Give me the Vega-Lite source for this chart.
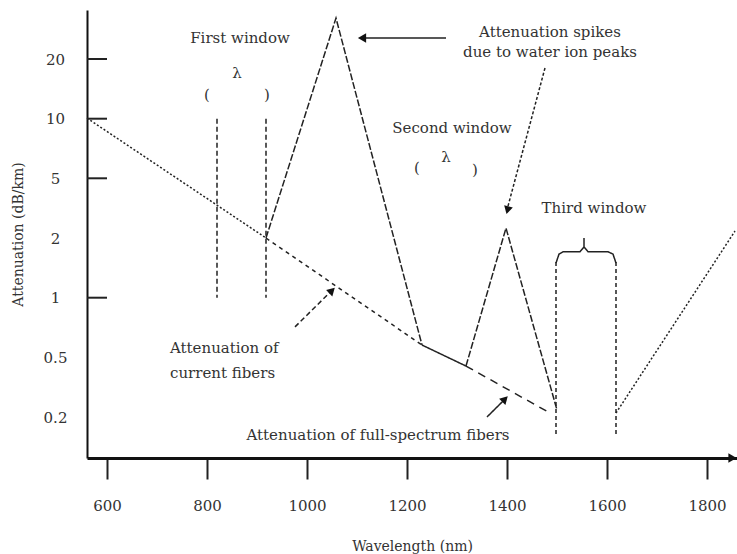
{
  "$schema": "https://vega.github.io/schema/vega-lite/v6.json",
  "width": 650,
  "height": 448,
  "autosize": {"type": "none"},
  "padding": {"left": 87, "top": 10, "right": 0, "bottom": 96},
  "background": "white",
  "config": {"view": {"stroke": null}, "font": "DejaVu Serif"},
  "datasets": {
    "lines": [
      {"series": "current-a", "i": 0, "wl": 560, "att": 10.1},
      {"series": "current-a", "i": 1, "wl": 918, "att": 2},
      {"series": "current-b", "i": 0, "wl": 918, "att": 2},
      {"series": "current-b", "i": 1, "wl": 1230, "att": 0.603},
      {"series": "spike-1", "i": 0, "wl": 918, "att": 2},
      {"series": "spike-1", "i": 1, "wl": 1058, "att": 36.7},
      {"series": "spike-1", "i": 2, "wl": 1230, "att": 0.603},
      {"series": "low-loss", "i": 0, "wl": 1230, "att": 0.603},
      {"series": "low-loss", "i": 1, "wl": 1318, "att": 0.456},
      {"series": "spike-2", "i": 0, "wl": 1318, "att": 0.456},
      {"series": "spike-2", "i": 1, "wl": 1398, "att": 2.5},
      {"series": "spike-2", "i": 2, "wl": 1500, "att": 0.235},
      {"series": "full-spectrum", "i": 0, "wl": 1318, "att": 0.456},
      {"series": "full-spectrum", "i": 1, "wl": 1486, "att": 0.22},
      {"series": "beyond-third", "i": 0, "wl": 1618, "att": 0.22},
      {"series": "beyond-third", "i": 1, "wl": 1856, "att": 2.35},
      {"series": "window1-left", "i": 0, "wl": 820, "att": 10},
      {"series": "window1-left", "i": 1, "wl": 820, "att": 1},
      {"series": "window1-right", "i": 0, "wl": 918, "att": 10},
      {"series": "window1-right", "i": 1, "wl": 918, "att": 1},
      {"series": "window3-left", "i": 0, "wl": 1498, "att": 1.6},
      {"series": "window3-left", "i": 1, "wl": 1498, "att": 0.102},
      {"series": "window3-right", "i": 0, "wl": 1618, "att": 1.6},
      {"series": "window3-right", "i": 1, "wl": 1618, "att": 0.102},
      {"series": "brace3", "i": 0, "wl": 1498, "att": 1.58},
      {"series": "brace3", "i": 1, "wl": 1504, "att": 1.73},
      {"series": "brace3", "i": 2, "wl": 1512, "att": 1.77},
      {"series": "brace3", "i": 3, "wl": 1546, "att": 1.77},
      {"series": "brace3", "i": 4, "wl": 1554, "att": 1.85},
      {"series": "brace3", "i": 5, "wl": 1554, "att": 2},
      {"series": "brace3", "i": 6, "wl": 1554, "att": 1.85},
      {"series": "brace3", "i": 7, "wl": 1562, "att": 1.77},
      {"series": "brace3", "i": 8, "wl": 1602, "att": 1.77},
      {"series": "brace3", "i": 9, "wl": 1612, "att": 1.73},
      {"series": "brace3", "i": 10, "wl": 1618, "att": 1.58},
      {"series": "arrow-peak", "i": 0, "wl": 1278, "att": 28.6},
      {"series": "arrow-peak", "i": 1, "wl": 1114, "att": 28.6},
      {"series": "arrow-water", "i": 0, "wl": 1476, "att": 18.5},
      {"series": "arrow-water", "i": 1, "wl": 1402, "att": 3.6},
      {"series": "arrow-current", "i": 0, "wl": 976, "att": 0.755},
      {"series": "arrow-current", "i": 1, "wl": 1046, "att": 1.09},
      {"series": "arrow-full", "i": 0, "wl": 1360, "att": 0.2},
      {"series": "arrow-full", "i": 1, "wl": 1392, "att": 0.28}
    ],
    "heads": [
      {"name": "arrow-peak", "wl": 1110, "att": 28.6},
      {"name": "arrow-water", "wl": 1401, "att": 3.4},
      {"name": "arrow-current", "wl": 1050, "att": 1.12},
      {"name": "arrow-full", "wl": 1396, "att": 0.29},
      {"name": "x-axis", "wl": 1851, "att": 0}
    ],
    "yticks": [{"att": 20}, {"att": 10}, {"att": 5}, {"att": 1}],
    "notes": [
      {"label": "First window", "wl": 866, "att": 28.6},
      {"label": "(", "wl": 800, "att": 14},
      {"label": "λ", "wl": 860, "att": 17.7},
      {"label": ")", "wl": 920, "att": 14},
      {"label": "Second window", "wl": 1290, "att": 9.2},
      {"label": "(", "wl": 1220, "att": 5.86},
      {"label": "λ", "wl": 1278, "att": 6.79},
      {"label": ")", "wl": 1336, "att": 5.7},
      {"label": "Attenuation spikes\ndue to water ion peaks", "wl": 1486, "att": 31},
      {"label": "Third window", "wl": 1574, "att": 3.5},
      {"label": "Attenuation of full-spectrum fibers", "wl": 1142, "att": 0.112}
    ],
    "leftnotes": [
      {"label": "Attenuation of\ncurrent fibers", "wl": 726, "att": 0.578}
    ]
  },
  "layer": [
    {
      "data": {"name": "lines"},
      "mark": {"type": "line", "strokeWidth": 1.5, "color": "#222"},
      "encoding": {
        "x": {
          "field": "wl", "type": "quantitative",
          "scale": {"domain": [560, 1860], "nice": false, "zero": false},
          "axis": {
            "title": "Wavelength (nm)",
            "values": [600, 800, 1000, 1200, 1400, 1600, 1800],
            "format": "d",
            "grid": false,
            "domainWidth": 3, "domainColor": "#111",
            "tickSize": 21, "tickWidth": 2, "tickColor": "#222",
            "labelFont": "DejaVu Serif", "labelFontSize": 15, "labelColor": "#333",
            "labelPadding": 19,
            "titleFont": "DejaVu Serif", "titleFontSize": 14, "titleFontWeight": "normal", "titleColor": "#333",
            "titlePadding": 26
          }
        },
        "y": {
          "field": "att", "type": "quantitative",
          "scale": {
            "type": "linear",
            "domain": [0, 0.2, 0.5, 1, 2, 5, 10, 20, 40],
            "range": [448, 407, 347.3, 287.7, 228, 168.3, 108.7, 49, 0],
            "nice": false, "zero": false
          },
          "axis": {
            "title": "Attenuation (dB/km)",
            "values": [0.2, 0.5, 1, 2, 5, 10, 20],
            "format": "~g",
            "grid": false,
            "ticks": false,
            "domainWidth": 2, "domainColor": "#111",
            "labelFont": "DejaVu Serif", "labelFontSize": 15, "labelColor": "#333",
            "labelAlign": "center", "labelBaseline": "middle", "labelPadding": 32,
            "titleFont": "DejaVu Serif", "titleFontSize": 14, "titleFontWeight": "normal", "titleColor": "#333",
            "titlePadding": 18
          }
        },
        "detail": {"field": "series", "type": "nominal"},
        "order": {"field": "i", "type": "quantitative"},
        "strokeDash": {
          "field": "series", "type": "nominal", "legend": null,
          "scale": {
            "domain": ["current-a", "current-b", "spike-1", "low-loss", "spike-2", "full-spectrum", "beyond-third", "window1-left", "window1-right", "window3-left", "window3-right", "brace3", "arrow-peak", "arrow-water", "arrow-current", "arrow-full"],
            "range": [[2, 2], [4, 4], [7, 2], [1, 0], [7, 2], [8, 6], [2, 2], [5, 3], [5, 3], [4, 3], [4, 3], [1, 0], [1, 0], [3, 2], [5, 3], [1, 0]]
          }
        }
      }
    },
    {
      "data": {"name": "yticks"},
      "mark": {"type": "rule", "strokeWidth": 2, "color": "#222"},
      "encoding": {
        "x": {"datum": 560, "type": "quantitative"},
        "x2": {"datum": 600},
        "y": {"field": "att", "type": "quantitative"}
      }
    },
    {
      "data": {"name": "heads"},
      "transform": [{"filter": "datum.name === 'arrow-peak'"}],
      "mark": {"type": "point", "shape": "triangle-up", "angle": 270, "filled": true, "size": 90, "color": "#111", "opacity": 1},
      "encoding": {"x": {"field": "wl", "type": "quantitative"}, "y": {"field": "att", "type": "quantitative"}}
    },
    {
      "data": {"name": "heads"},
      "transform": [{"filter": "datum.name === 'arrow-water'"}],
      "mark": {"type": "point", "shape": "triangle-up", "angle": 195, "filled": true, "size": 80, "color": "#111", "opacity": 1},
      "encoding": {"x": {"field": "wl", "type": "quantitative"}, "y": {"field": "att", "type": "quantitative"}}
    },
    {
      "data": {"name": "heads"},
      "transform": [{"filter": "datum.name === 'arrow-current'"}],
      "mark": {"type": "point", "shape": "triangle-up", "angle": 46, "filled": true, "size": 80, "color": "#111", "opacity": 1},
      "encoding": {"x": {"field": "wl", "type": "quantitative"}, "y": {"field": "att", "type": "quantitative"}}
    },
    {
      "data": {"name": "heads"},
      "transform": [{"filter": "datum.name === 'arrow-full'"}],
      "mark": {"type": "point", "shape": "triangle-up", "angle": 45, "filled": true, "size": 80, "color": "#111", "opacity": 1},
      "encoding": {"x": {"field": "wl", "type": "quantitative"}, "y": {"field": "att", "type": "quantitative"}}
    },
    {
      "data": {"name": "heads"},
      "transform": [{"filter": "datum.name === 'x-axis'"}],
      "mark": {"type": "point", "shape": "triangle-up", "angle": 90, "filled": true, "size": 90, "color": "#111", "opacity": 1},
      "encoding": {"x": {"field": "wl", "type": "quantitative"}, "y": {"field": "att", "type": "quantitative"}}
    },
    {
      "data": {"name": "notes"},
      "mark": {"type": "text", "font": "DejaVu Serif", "fontSize": 15, "color": "#333", "align": "center", "baseline": "middle", "lineBreak": "\n", "lineHeight": 20},
      "encoding": {
        "x": {"field": "wl", "type": "quantitative"},
        "y": {"field": "att", "type": "quantitative"},
        "text": {"field": "label"}
      }
    },
    {
      "data": {"name": "leftnotes"},
      "mark": {"type": "text", "font": "DejaVu Serif", "fontSize": 15, "color": "#333", "align": "left", "baseline": "middle", "lineBreak": "\n", "lineHeight": 25},
      "encoding": {
        "x": {"field": "wl", "type": "quantitative"},
        "y": {"field": "att", "type": "quantitative"},
        "text": {"field": "label"}
      }
    }
  ]
}
